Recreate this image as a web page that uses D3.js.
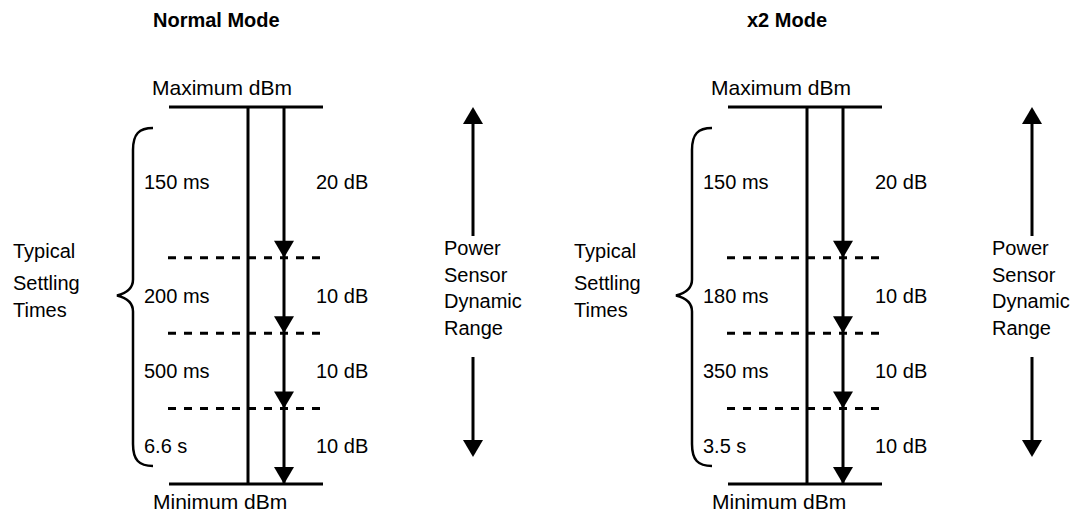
<!DOCTYPE html>
<html>
<head>
<meta charset="utf-8">
<script src="https://cdn.jsdelivr.net/npm/d3@7"></script>
<style>
  body { margin: 0; background: #fff; }
  text { font-family: "Liberation Sans", Arial, sans-serif; fill: #000; }
</style>
</head>
<body>
<div id="chart-area"></div>
<script>
// Data
let panelTitles = ['Normal Mode', 'x2 Mode']
let stepDb = [20, 10, 10, 10]
let normalTimes = ['150 ms', '200 ms', '500 ms', '6.6 s']
let x2Times = ['150 ms', '180 ms', '350 ms', '3.5 s']
let sideLabel = ['Typical', 'Settling', 'Times']
let rangeLabel = ['Power', 'Sensor', 'Dynamic', 'Range']
let topLabel = 'Maximum dBm'
let bottomLabel = 'Minimum dBm'

let width = 1074
let height = 513

let svg = d3.select('#chart-area').append('svg')
  .attr('width', width)
  .attr('height', height)

// cumulative dB boundaries: 0, 20, 30, 40, 50
let bounds = [0]
stepDb.forEach((d) => { bounds.push(bounds[bounds.length - 1] + d) })

// y scale: dB below maximum
let y = d3.scaleLinear()
  .domain([0, d3.sum(stepDb)])
  .range([107, 484])

// panel layout (offsets, per-panel text positions)
let panels = [
  { title: panelTitles[0], times: normalTimes, dx: 0, titleX: 153, sideX: 13, rangeTextX: 444 },
  { title: panelTitles[1], times: x2Times, dx: 559, titleX: 188, sideX: 15, rangeTextX: 433 }
]

let lineX0 = 169, lineX1 = 323
let vLineX = 248
let arrowX = 284
let timeX = 144
let dbX = 316
let rangeX = 473

panels.forEach((p) => {
  let g = svg.append('g')
    .attr('transform', 'translate(' + p.dx + ', 0)')

  // title
  g.append('text')
    .attr('x', p.titleX)
    .attr('y', 27)
    .style('font-size', '20px')
    .style('font-weight', 'bold')
    .text(p.title)

  // max / min labels
  g.append('text')
    .attr('x', 152)
    .attr('y', y(0) - 12)
    .style('font-size', '21px')
    .text(topLabel)
  g.append('text')
    .attr('x', 153)
    .attr('y', y(bounds[bounds.length - 1]) + 25)
    .style('font-size', '21px')
    .text(bottomLabel)

  // dashed boundaries between steps
  g.selectAll('.dash')
    .data(bounds.slice(1, -1))
    .enter().append('line')
    .attr('class', 'dash')
    .attr('x1', lineX0 - 1)
    .attr('x2', lineX1)
    .attr('y1', (d) => y(d))
    .attr('y2', (d) => y(d))
    .attr('stroke', '#000')
    .attr('stroke-width', 3)
    .attr('stroke-dasharray', '8,8')

  // top and bottom solid lines
  g.selectAll('.hline')
    .data([bounds[0], bounds[bounds.length - 1]])
    .enter().append('line')
    .attr('class', 'hline')
    .attr('x1', lineX0)
    .attr('x2', lineX1)
    .attr('y1', (d) => y(d))
    .attr('y2', (d) => y(d))
    .attr('stroke', '#000')
    .attr('stroke-width', 3)

  // vertical line and arrow shaft
  g.append('line')
    .attr('x1', vLineX).attr('x2', vLineX)
    .attr('y1', y(0)).attr('y2', y(bounds[bounds.length - 1]))
    .attr('stroke', '#000').attr('stroke-width', 3)
  g.append('line')
    .attr('x1', arrowX).attr('x2', arrowX)
    .attr('y1', y(0)).attr('y2', y(bounds[bounds.length - 1]))
    .attr('stroke', '#000').attr('stroke-width', 3)

  // down arrowheads at each boundary
  g.selectAll('.head')
    .data(bounds.slice(1))
    .enter().append('path')
    .attr('class', 'head')
    .attr('d', (d) => {
      let t = y(d)
      return 'M' + (arrowX - 10) + ',' + (t - 17) + 'L' + (arrowX + 10) + ',' + (t - 17) + 'L' + arrowX + ',' + t + 'Z'
    })
    .attr('fill', '#000')

  // step labels
  let steps = stepDb.map((d, i) => ({ db: d, time: p.times[i], mid: (y(bounds[i]) + y(bounds[i + 1])) / 2 }))

  g.selectAll('.time')
    .data(steps)
    .enter().append('text')
    .attr('class', 'time')
    .attr('x', timeX)
    .attr('y', (d) => d.mid + 7)
    .style('font-size', '20px')
    .text((d) => d.time)

  g.selectAll('.db')
    .data(steps)
    .enter().append('text')
    .attr('class', 'db')
    .attr('x', dbX)
    .attr('y', (d) => d.mid + 7)
    .style('font-size', '20px')
    .text((d) => d.db + ' dB')

  // curly brace
  let bTop = y(0) + 21
  let bBot = y(bounds[bounds.length - 1]) - 18
  let bMid = y(d3.sum(stepDb) / 2)
  let bx = 133
  let brace = d3.path()
  brace.moveTo(bx + 20, bTop)
  brace.bezierCurveTo(bx + 6, bTop, bx, bTop + 6, bx, bTop + 22)
  brace.lineTo(bx, bMid - 16)
  brace.bezierCurveTo(bx, bMid - 6, bx - 8, bMid - 2, bx - 16, bMid)
  brace.bezierCurveTo(bx - 8, bMid + 2, bx, bMid + 6, bx, bMid + 16)
  brace.lineTo(bx, bBot - 22)
  brace.bezierCurveTo(bx, bBot - 6, bx + 6, bBot, bx + 20, bBot)
  g.append('path')
    .attr('d', brace.toString())
    .attr('fill', 'none')
    .attr('stroke', '#000')
    .attr('stroke-width', 2.5)

  // typical settling times label
  let sideY = [258, 290, 317]
  g.selectAll('.side')
    .data(sideLabel)
    .enter().append('text')
    .attr('class', 'side')
    .attr('x', p.sideX)
    .attr('y', (d, i) => sideY[i])
    .style('font-size', '20px')
    .text((d) => d)

  // dynamic range double arrow
  g.append('line')
    .attr('x1', rangeX).attr('x2', rangeX)
    .attr('y1', y(0) + 14).attr('y2', 236)
    .attr('stroke', '#000').attr('stroke-width', 3)
  g.append('line')
    .attr('x1', rangeX).attr('x2', rangeX)
    .attr('y1', 357).attr('y2', 443)
    .attr('stroke', '#000').attr('stroke-width', 3)
  g.append('path')
    .attr('d', 'M' + (rangeX - 10) + ',' + (y(0) + 17) + 'L' + (rangeX + 10) + ',' + (y(0) + 17) + 'L' + rangeX + ',' + y(0) + 'Z')
    .attr('fill', '#000')
  g.append('path')
    .attr('d', 'M' + (rangeX - 10) + ',440L' + (rangeX + 10) + ',440L' + rangeX + ',457Z')
    .attr('fill', '#000')

  g.selectAll('.range')
    .data(rangeLabel)
    .enter().append('text')
    .attr('class', 'range')
    .attr('x', p.rangeTextX)
    .attr('y', (d, i) => 255 + i * 26.7)
    .style('font-size', '20px')
    .text((d) => d)
})
</script>
</body>
</html>
